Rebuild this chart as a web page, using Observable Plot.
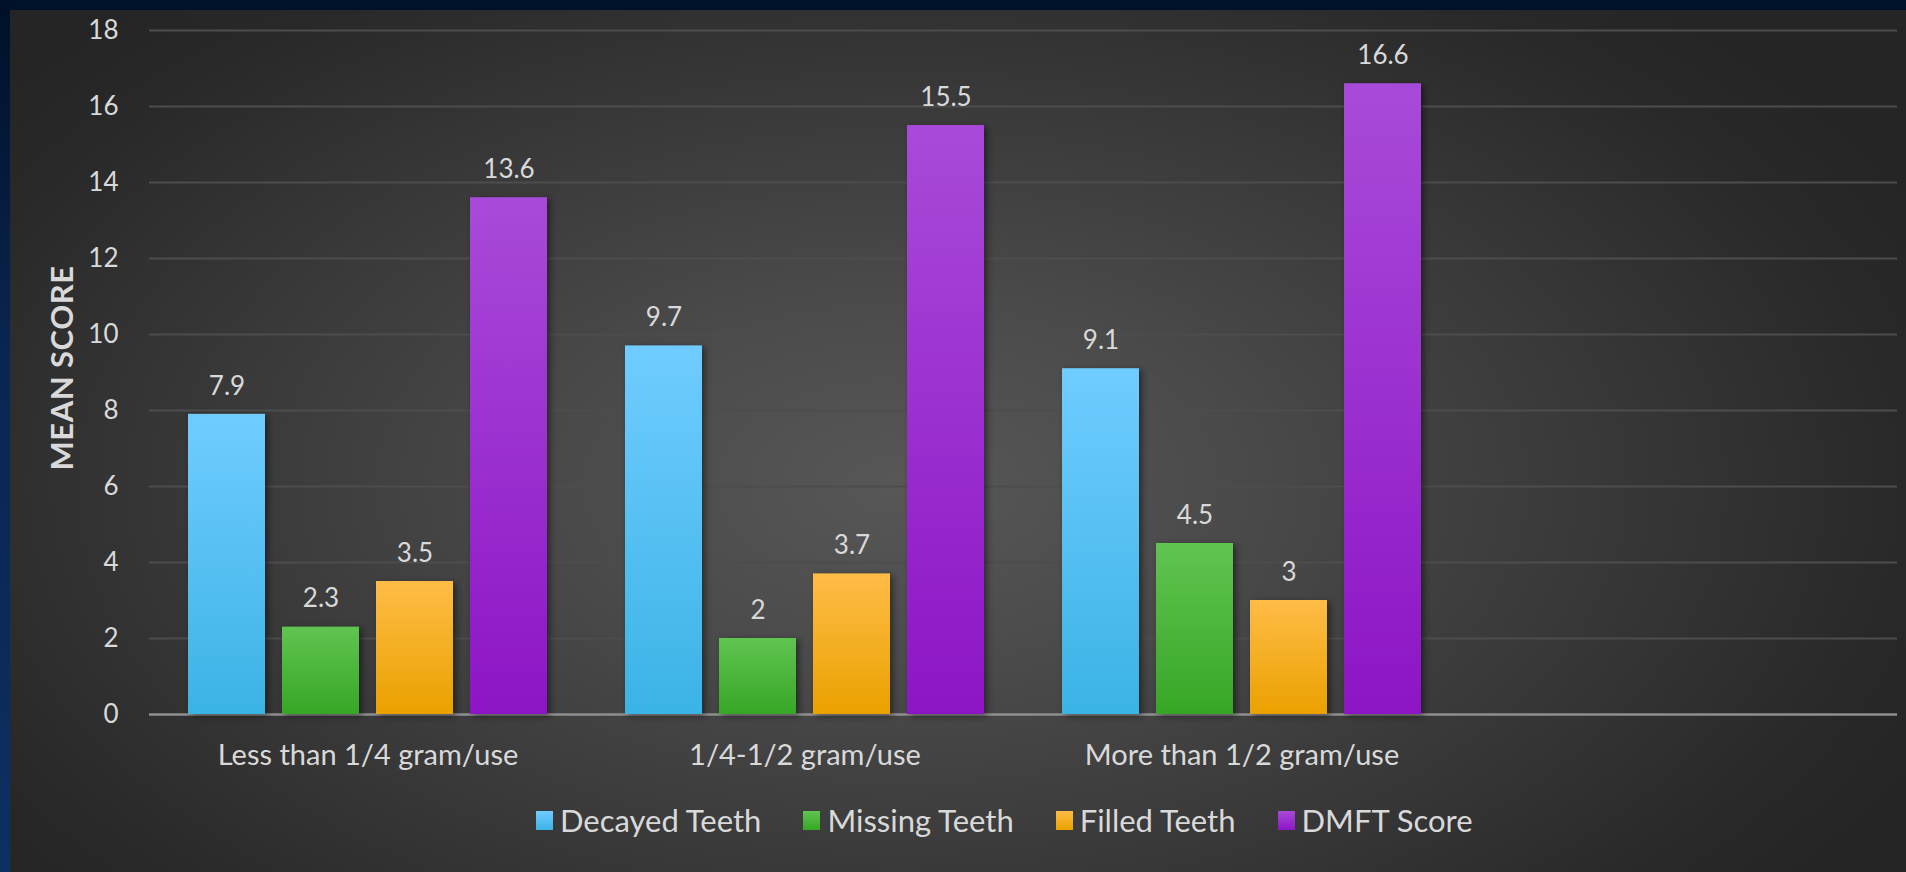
<!DOCTYPE html>
<html>
<head>
<meta charset="utf-8">
<script src="https://cdn.jsdelivr.net/npm/d3@7"></script>
<script src="https://cdn.jsdelivr.net/npm/@observablehq/plot@0.6"></script>
<style>
  html, body { margin: 0; padding: 0; width: 1906px; height: 872px; overflow: hidden; background: #00112a; }
  #page { position: relative; width: 1906px; height: 872px; }
  #leftband { position: absolute; left: 0; top: 0; width: 10px; height: 872px;
    background: linear-gradient(180deg, #001027 0%, #0a2550 40%, #0d2f62 100%); }
  #panel { position: absolute; left: 10px; top: 10px; right: 0; bottom: 0;
    background: radial-gradient(ellipse 60% 75% at 47% 55%, #575757 0%, #4a4a4a 30%, #383838 62%, #292929 88%, #252525 100%); }
  .layer { position: absolute; left: 0; top: 0; }
  #ylabel { position: absolute; left: 61px; top: 368px; transform: translate(-50%, -50%) rotate(-90deg);
    font-family: Lato, "Open Sans", sans-serif; font-weight: bold; font-size: 31px; color: #d9d9d9;
    white-space: nowrap; letter-spacing: 0.5px; }
  #legend { position: absolute; left: 536px; top: 801px; display: flex; align-items: center;
    font-family: Lato, "Open Sans", sans-serif; font-size: 31px; color: #d9d9d9; }
  .item { display: flex; align-items: center; margin-right: 42px; }
  .sw { width: 17px; height: 19px; margin-right: 7px; }
  g[aria-label="bar"] rect { filter: drop-shadow(3px 2px 3px rgba(0,0,0,0.45)); }
</style>
</head>
<body>
<div id="page">
  <div id="leftband"></div>
  <div id="panel"></div>
  <div id="bg" class="layer"></div>
  <div id="fg" class="layer"></div>
  <div id="ylabel">MEAN SCORE</div>
  <div id="legend"></div>
</div>
<script>
// ---- data ----
const categories = ["Less than 1/4 gram/use", "1/4-1/2 gram/use", "More than 1/2 gram/use"];
const series = ["Decayed Teeth", "Missing Teeth", "Filled Teeth", "DMFT Score"];
const decayed = [7.9, 9.7, 9.1];
const missing = [2.3, 2.0, 4.5];
const filled = [3.5, 3.7, 3.0];
const dmft = [13.6, 15.5, 16.6];
const yTicks = [0, 2, 4, 6, 8, 10, 12, 14, 16, 18];

// ---- styles ----
const gradTop = ["#70ccff", "#60c451", "#ffbc47", "#a84ad9"];
const gradBottom = ["#3bb3e5", "#37a626", "#eaa100", "#8d15c5"];
const gradIds = series.map((s, i) => "grad" + i);

const values = [decayed, missing, filled, dmft];
const table = [];
categories.forEach((c, ci) => series.forEach((s, si) => table.push({category: c, series: s, value: values[si][ci]})));

const W = 1906, H = 790;
const margins = {marginLeft: 149, marginRight: 9, marginTop: 30, marginBottom: 76};
const font = "Lato, 'Open Sans', sans-serif";

// background layer: grid, baseline, y tick labels
const bg = Plot.plot({
  width: W, height: H, ...margins,
  style: {background: "transparent", color: "#d9d9d9", fontFamily: font, fontSize: "26px"},
  y: {domain: [0, 18], ticks: yTicks, tickSize: 0, tickPadding: 31, label: null},
  marks: [
    Plot.ruleY(yTicks.filter(d => d > 0), {stroke: "#4d4d4d", strokeWidth: 2}),
    Plot.ruleY([0], {stroke: "#8f8f8f", strokeWidth: 2.5})
  ]
});
document.getElementById("bg").appendChild(bg);

// foreground layer: faceted bars
const fg = Plot.plot({
  width: W, height: H, ...margins,
  style: {background: "transparent", color: "#d9d9d9", fontFamily: font, fontSize: "29px", overflow: "visible"},
  facet: {data: table, x: "category"},
  fx: {domain: [...categories, " "], paddingInner: 0, paddingOuter: 0, axis: "bottom", tickSize: 0, tickPadding: 30, label: null},
  x: {domain: series, paddingInner: 0.183, paddingOuter: 0.41, axis: null},
  y: {domain: [0, 18], axis: null},
  color: {domain: series, range: gradIds.map(id => `url(#${id})`)},
  marks: [
    Plot.barY(table, {x: "series", y: "value", fill: "series"}),
    Plot.text(table, {x: "series", y: "value", text: d => String(d.value), dy: -28, fill: "#d9d9d9", fontSize: 26, lineAnchor: "middle"})
  ]
});
const NS = "http://www.w3.org/2000/svg";
const defs = document.createElementNS(NS, "defs");
gradIds.forEach((id, i) => {
  const lg = document.createElementNS(NS, "linearGradient");
  lg.setAttribute("id", id);
  lg.setAttribute("x1", "0"); lg.setAttribute("y1", "0"); lg.setAttribute("x2", "0"); lg.setAttribute("y2", "1");
  [[0, gradTop[i]], [1, gradBottom[i]]].forEach(([o, c]) => {
    const st = document.createElementNS(NS, "stop");
    st.setAttribute("offset", o); st.setAttribute("stop-color", c);
    lg.appendChild(st);
  });
  defs.appendChild(lg);
});
fg.insertBefore(defs, fg.firstChild);
document.getElementById("fg").appendChild(fg);

// legend
const legend = document.getElementById("legend");
series.forEach((s, i) => {
  const item = document.createElement("div");
  item.className = "item";
  const sw = document.createElement("div");
  sw.className = "sw";
  sw.style.background = `linear-gradient(180deg, ${gradTop[i]}, ${gradBottom[i]})`;
  const t = document.createElement("span");
  t.textContent = s;
  item.appendChild(sw); item.appendChild(t);
  legend.appendChild(item);
});
</script>
</body>
</html>
